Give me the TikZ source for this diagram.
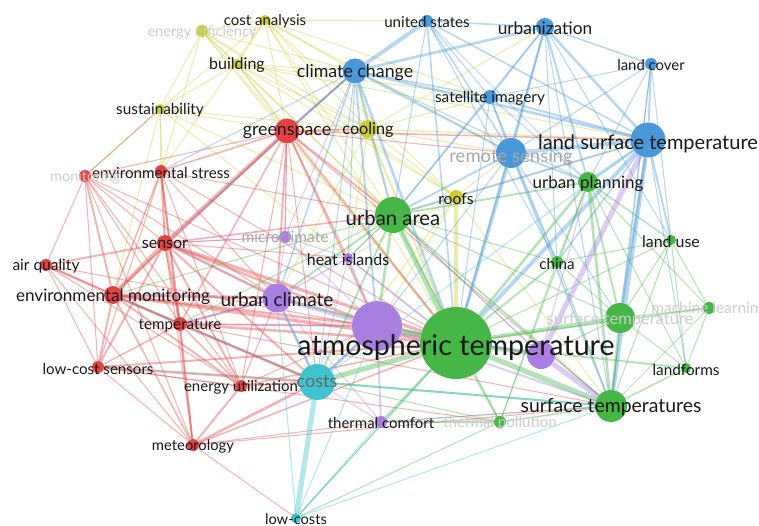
\documentclass[tikz,border=0pt]{standalone}
\usepackage{fontspec}
\setmainfont{Lato}
\definecolor{vred}{RGB}{226,66,66}
\definecolor{vgrn}{RGB}{70,182,70}
\definecolor{vblu}{RGB}{74,152,218}
\definecolor{vyel}{RGB}{204,204,52}
\definecolor{vpur}{RGB}{168,126,225}
\definecolor{vcya}{RGB}{62,196,206}
\pgfdeclarelayer{edges}
\pgfsetlayers{edges,main}
\tikzset{
  every picture/.style={line join=round, line cap=round},
  kw/.style={circle, inner sep=0pt, fill=#1},
  lbl/.style={inner sep=0pt, text=black!90, yshift=-1.5pt},
  faded/.style={inner sep=0pt, text=black!20, yshift=-1.5pt},
  fs/.style={font=\fontsize{#1}{#1}\selectfont},
  link/.style={draw=#1, draw opacity=.4},
}

\begin{document}
\begin{tikzpicture}[x=1pt,y=-1pt]
\useasboundingbox (0,0) rectangle (759,526);
\clip (0,0) rectangle (759,526);

% yellow cluster
\node[kw=vyel, minimum size=10] (ca) at (265,20) {};
\node[kw=vyel, minimum size=12] (ee) at (202,31) {};
\node[kw=vyel, minimum size=10] (bld) at (237,64) {};
\node[kw=vyel, minimum size=10] (sus) at (160,109) {};
\node[kw=vyel, minimum size=18] (cool) at (368,129) {};
\node[kw=vyel, minimum size=14] (roof) at (456,197) {};
% red cluster
\node[kw=vred, minimum size=25] (gs) at (287,131) {};
\node[kw=vred, minimum size=12] (es) at (161,171) {};
\node[kw=vred, minimum size=12] (mon) at (85,176) {};
\node[kw=vred, minimum size=16] (sen) at (165,243) {};
\node[kw=vred, minimum size=12] (aq) at (46,265) {};
\node[kw=vred, minimum size=18] (em) at (113,295) {};
\node[kw=vred, minimum size=14] (tmp) at (180,324) {};
\node[kw=vred, minimum size=12] (lcs) at (98,367) {};
\node[kw=vred, minimum size=12] (eu) at (241,386) {};
\node[kw=vred, minimum size=12] (met) at (193,445) {};
% blue cluster
\node[kw=vblu, minimum size=12] (us) at (427,21) {};
\node[kw=vblu, minimum size=18] (urbz) at (545,27) {};
\node[kw=vblu, minimum size=25] (cc) at (355,71) {};
\node[kw=vblu, minimum size=12] (lc) at (651,64) {};
\node[kw=vblu, minimum size=14] (sat) at (490,97) {};
\node[kw=vblu, minimum size=30] (rs) at (511,153) {};
\node[kw=vblu, minimum size=35] (lst) at (648,140) {};
% green cluster
\node[kw=vgrn, minimum size=36] (ua) at (393,215) {};
\node[kw=vgrn, minimum size=20] (up) at (588,182) {};
\node[kw=vgrn, minimum size=10] (lu) at (671,240) {};
\node[kw=vgrn, minimum size=12] (chn) at (557,262) {};
\node[kw=vgrn, minimum size=30] (st) at (620,318) {};
\node[kw=vgrn, minimum size=12] (ml) at (709,308) {};
\node[kw=vgrn, minimum size=10] (lf) at (686,368) {};
\node[kw=vgrn, minimum size=32] (sts) at (611,406) {};
\node[kw=vgrn, minimum size=12] (tp) at (500,422) {};
% purple cluster
\node[kw=vpur, minimum size=12] (mc) at (285,237) {};
\node[kw=vpur, minimum size=10] (hi) at (348,258) {};
\node[kw=vpur, minimum size=29] (uc) at (277,298) {};
\node[kw=vpur, minimum size=50] (pa) at (377,326) {};
\node[kw=vpur, minimum size=28] (pb) at (541,355) {};
\node[kw=vpur, minimum size=12] (tc) at (381,422) {};
% cyan cluster
\node[kw=vcya, minimum size=36] (cst) at (317,382) {};
\node[kw=vcya, minimum size=10] (lco) at (296,518) {};
% the big one on top of the purple ones
\node[kw=vgrn, minimum size=72] (at) at (456,343) {};

\begin{pgfonlayer}{edges}
\foreach \s/\t/\w in {ca/ee/.8,ca/bld/.8,ca/sus/.8,ca/gs/.8,ca/cool/.8,ca/cc/.8,ca/us/.8,ca/ua/.8,ca/roof/.8,ca/at/.8,ca/es/.8,ca/rs/.8,ca/sat/.8,
  ee/bld/.8,ee/sus/.8,ee/gs/.8,ee/cool/.8,ee/ua/.8,ee/cc/.8,ee/es/.8,ee/roof/.8,ee/at/.8,
  bld/gs/.8,bld/cool/.8,bld/roof/.8,bld/cc/.8,bld/sus/.8,bld/ua/.8,bld/at/.8,bld/sat/.8,bld/lst/.8,
  sus/gs/.8,sus/es/.8,sus/mon/.8,sus/sen/.8,sus/cool/.8,sus/ua/.8,sus/at/.8,sus/em/.8,
  cool/roof/.8,cool/ua/.8,cool/at/1.5,cool/gs/.8,cool/rs/.8,cool/lst/1,cool/urbz/.8,cool/cc/1.2,cool/sat/.8,cool/hi/.8,cool/uc/.8,
  roof/at/3,roof/ua/1.2,roof/cst/.8,roof/hi/.8,roof/lst/.8,roof/rs/.8,roof/pa/.8,roof/sts/.8}
  \draw[link=vyel, line width=1.3*\w] (\s) -- (\t);
\foreach \s/\t/\w in {gs/sen/3,gs/es/1.2,gs/mon/.8,gs/em/1.5,gs/tmp/1.2,gs/ua/1.5,gs/at/1.5,gs/uc/1.5,gs/cc/1.5,gs/cool/1.2,gs/rs/.8,gs/lst/1.2,gs/pa/1.5,gs/cst/.8,gs/hi/.8,gs/mc/.8,gs/eu/.8,gs/sts/.8,
  sen/aq/1.5,sen/em/3,sen/tmp/2,sen/es/1.5,sen/mon/.8,sen/lcs/1.5,sen/eu/1.5,sen/met/.8,sen/uc/2,sen/at/2.5,sen/cst/1.5,sen/pa/2,sen/ua/1.2,sen/hi/.8,sen/mc/.8,
  mon/aq/.8,mon/em/1.5,mon/tmp/.8,mon/lcs/.8,mon/eu/.8,mon/es/.8,mon/met/.8,mon/uc/.8,mon/at/.8,mon/sus/.8,
  es/tmp/1.5,es/em/1.2,es/lcs/.8,es/met/1.2,es/ua/.8,es/at/.8,es/uc/.8,es/eu/.8,
  aq/em/2,aq/tmp/.8,aq/lcs/.8,aq/eu/.8,aq/met/.8,aq/at/.8,
  em/tmp/2,em/lcs/1.5,em/eu/1.5,em/met/1.2,em/uc/2.5,em/at/2.5,em/cst/1.5,em/pa/2,
  tmp/lcs/1.2,tmp/eu/1.2,tmp/met/1.5,tmp/at/2,tmp/uc/1.5,tmp/cst/2,tmp/pa/1.5,tmp/sts/.8,
  lcs/eu/.8,lcs/met/.8,lcs/cst/2,lcs/at/1.5,lcs/tp/.8,
  eu/met/1.5,eu/cst/1.5,eu/at/1.2,eu/uc/.8,eu/pa/.8,
  met/at/1.2,met/cst/2,met/sts/.8,met/lco/.8,met/tc/.8}
  \draw[link=vred, line width=1.3*\w] (\s) -- (\t);
\foreach \s/\t/\w in {us/cc/3,us/urbz/1.2,us/sat/.8,us/rs/1.2,us/lst/1.2,us/ua/.8,us/at/1.2,us/chn/.8,us/up/.8,
  urbz/cc/2,urbz/lc/1.2,urbz/rs/1.5,urbz/lst/2,urbz/sat/.8,urbz/up/1.5,urbz/ua/1.2,urbz/at/1.5,urbz/chn/.8,urbz/sts/.8,urbz/lu/.8,
  cc/gs/1.5,cc/ua/1.5,cc/at/2,cc/rs/1.5,cc/lst/2,cc/sat/1.2,cc/hi/.8,cc/uc/1.2,cc/pa/1.5,cc/cst/.8,cc/sen/.8,cc/es/.8,cc/up/.8,
  lc/lst/1.5,lc/rs/.8,lc/up/.8,lc/lu/.8,lc/st/.8,lc/sat/.8,lc/sts/.8,
  sat/rs/1.5,sat/lst/1.5,sat/ua/.8,sat/at/.8,sat/up/.8,sat/chn/.8,
  rs/lst/3,rs/ua/1.5,rs/at/2.5,rs/up/1.5,rs/sts/1.5,rs/chn/.8,rs/st/.8,rs/pa/.8,
  lst/up/2,lst/lu/1.5,lst/st/2,lst/sts/3,lst/at/3,lst/chn/1.2,lst/ua/1.5,lst/lf/.8}
  \draw[link=vblu, line width=1.3*\w] (\s) -- (\t);
\foreach \s/\t/\w in {ua/at/4,ua/up/1.5,ua/hi/.8,ua/uc/1.5,ua/cst/1.5,ua/sts/1.5,ua/pa/2,ua/tp/.8,ua/chn/.8,ua/em/.8,ua/tmp/.8,ua/st/.8,ua/pb/.8,
  up/at/2,up/lu/1.2,up/chn/1.2,up/st/1.5,up/sts/2,up/lf/.8,up/ml/.8,up/tp/.8,
  lu/st/.8,lu/sts/.8,lu/lf/.8,lu/ml/.8,lu/at/.8,lu/chn/.8,
  chn/at/1.5,chn/sts/.8,chn/st/.8,chn/tp/.8,
  at/st/3,at/sts/4,at/tp/1.5,at/lf/1.5,at/cst/4,at/pa/4,at/pb/3,at/uc/2,at/tc/1.5,at/ml/1.2,at/lco/.8,
  st/sts/2,st/ml/.8,st/lf/.8,st/pb/.8,
  ml/sts/.8,ml/lf/.8,lf/sts/1.2,
  sts/tp/1.2,sts/cst/1.5,sts/tc/.8,
  tp/cst/.8,tp/tc/.8,tp/lco/.8}
  \draw[link=vgrn, line width=1.3*\w] (\s) -- (\t);
\foreach \s/\t/\w in {mc/hi/.8,mc/uc/.8,mc/pa/.8,mc/gs/.8,mc/sen/.8,mc/cc/.8,
  hi/uc/1.2,hi/pa/1.5,hi/at/1.5,hi/cst/.8,hi/ua/.8,
  uc/pa/3,uc/cst/2,uc/tc/.8,uc/tmp/1.5,uc/em/.8,uc/sen/.8,
  pa/cst/2,pa/pb/2,pa/tc/1.5,pa/sts/1.5,pa/tmp/.8,
  pb/sts/4,pb/lst/4,pb/up/.8,pb/ua/.8,
  tc/cst/.8,tc/sts/.8}
  \draw[link=vpur, line width=1.3*\w] (\s) -- (\t);
\foreach \s/\t/\w in {cst/lco/4,cst/pa/2,cst/sts/1.5,cst/em/.8,cst/lcs/.8,cst/uc/1.5,cst/lst/.8,
  lco/at/.8,lco/uc/.8,lco/tc/.8,lco/pa/.8,lco/sts/.8}
  \draw[link=vcya, line width=1.3*\w] (\s) -- (\t);
\end{pgfonlayer}

% labels
\node[lbl, fs=15] at (ca) {cost analysis};
\node[faded, fs=14.6] at (ee) {energy efficiency};
\node[lbl, fs=16] at (bld) {building};
\node[lbl, fs=15.3] at (sus) {sustainability};
\node[lbl, fs=16.2] at (cool) {cooling};
\node[lbl, fs=15.7] at (roof) {roofs};
\node[lbl, fs=17.8] at (gs) {greenspace};
\node[lbl, fs=15.2] at (es) {environmental stress};
\node[faded, fs=14.6] at (mon) {monitoring};
\node[lbl, fs=16] at (sen) {sensor};
\node[lbl, fs=15.5] at (aq) {air quality};
\node[lbl, fs=17.1] at (em) {environmental monitoring};
\node[lbl, fs=15.2] at (tmp) {temperature};
\node[lbl, fs=15.1] at (lcs) {low-cost sensors};
\node[lbl, fs=15] at (eu) {energy utilization};
\node[lbl, fs=14.8] at (met) {meteorology};
\node[lbl, fs=15.1] at (us) {united states};
\node[lbl, fs=17.3] at (urbz) {urbanization};
\node[lbl, fs=17.8] at (cc) {climate change};
\node[lbl, fs=14.9] at (lc) {land cover};
\node[lbl, fs=15.4] at (sat) {satellite imagery};
\node[text=black!35, inner sep=0pt, fs=18.5] at ([yshift=-4]rs) {remote sensing};
\node[lbl, fs=20] at ([yshift=-2]lst) {land surface temperature};
\node[lbl, fs=20.3] at ([yshift=-2]ua) {urban area};
\node[lbl, fs=17] at (up) {urban planning};
\node[lbl, fs=15.9] at (lu) {land use};
\node[lbl, fs=15.2] at (chn) {china};
\node[faded, fs=16.5] at (st) {surface temperature};
\node[faded, fs=15.5] at (ml) {machine learning};
\node[lbl, fs=15.3] at (lf) {landforms};
\node[lbl, fs=19.4] at (sts) {surface temperatures};
\node[faded, fs=15.1] at (tp) {thermal pollution};
\node[text=black!35, inner sep=0pt, fs=15.5] at (mc) {microclimate};
\node[lbl, fs=16] at (hi) {heat islands};
\node[lbl, fs=19] at (uc) {urban climate};
\node[lbl, fs=15] at (tc) {thermal comfort};
\node[text=black!60, inner sep=0pt, fs=18] at (cst) {costs};
\node[lbl, fs=14.7] at (lco) {low-costs};
\node[lbl, fs=28.6] at ([yshift=-3]at) {atmospheric temperature};
\end{tikzpicture}
\end{document}
